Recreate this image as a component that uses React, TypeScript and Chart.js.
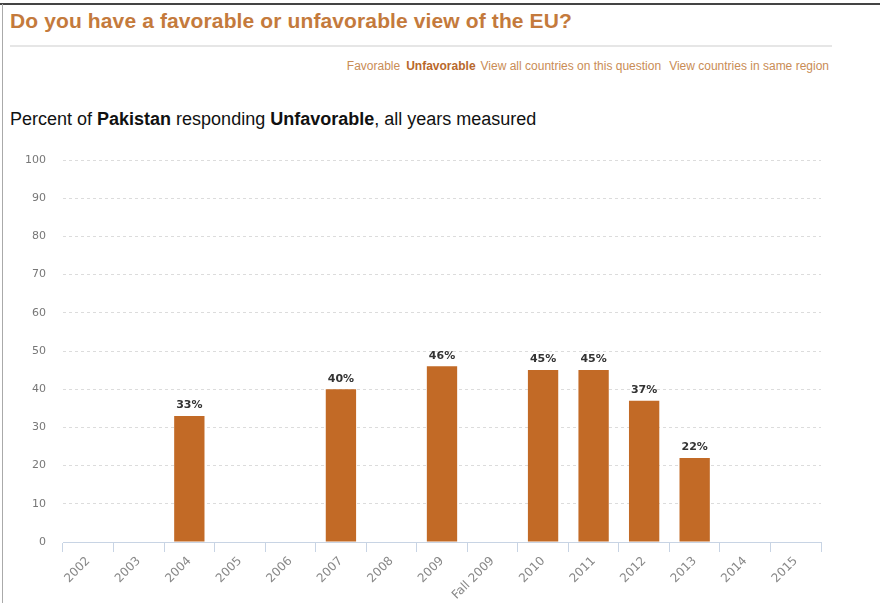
import React, { useEffect, useRef } from "react";
import { Chart, registerables } from "chart.js";

Chart.register(...registerables);

const categories = ["2002", "2003", "2004", "2005", "2006", "2007", "2008", "2009", "Fall 2009", "2010", "2011", "2012", "2013", "2014", "2015"];
const unfavorable: (number | null)[] = [null, null, 33, null, null, 40, null, 46, null, 45, 45, 37, 22, null, null];
const yTicks = [0, 10, 20, 30, 40, 50, 60, 70, 80, 90, 100];

const BAR = "#c26a26";

const labelPlugin = {
  id: "barLabels",
  afterDatasetsDraw(chart: any) {
    const ctx = chart.ctx;
    const meta = chart.getDatasetMeta(0);
    ctx.save();
    ctx.font = "bold 11px 'DejaVu Sans', sans-serif";
    ctx.fillStyle = "#333";
    ctx.textAlign = "center";
    ctx.textBaseline = "bottom";
    meta.data.forEach((el: any, i: number) => {
      const v = unfavorable[i];
      if (v == null) return;
      ctx.fillText(v + "%", el.x, el.y - 5);
    });
    ctx.restore();
  },
};

export default function App() {
  const ref = useRef<HTMLCanvasElement>(null);
  useEffect(() => {
    if (!ref.current) return;
    const chart = new Chart(ref.current, {
      type: "bar",
      data: {
        labels: categories,
        datasets: [
          {
            data: unfavorable,
            backgroundColor: BAR,
            barPercentage: 0.6,
            categoryPercentage: 1,
          },
        ],
      },
      options: {
        animation: false,
        responsive: false,
        maintainAspectRatio: false,
        layout: { padding: { left: 0, right: 59, top: 30, bottom: 0 } },
        plugins: { legend: { display: false }, tooltip: { enabled: false } },
        scales: {
          x: {
            grid: {
              display: true,
              offset: true,
              drawOnChartArea: false,
              drawTicks: true,
              tickLength: 10,
              color: "#c8d4e4",
            },
            border: { display: true, color: "#c8d4e4", width: 1 },
            ticks: {
              autoSkip: false,
              maxRotation: 45,
              minRotation: 45,
              color: "#888",
              font: { family: "'DejaVu Sans', sans-serif", size: 12 },
              padding: 2,
            },
            afterFit: (s: any) => {
              s.height = 61;
            },
          },
          y: {
            min: 0,
            max: 100,
            afterBuildTicks: (s: any) => {
              s.ticks = yTicks.map((v) => ({ value: v }));
            },
            grid: {
              color: "#dcdcdc",
              drawTicks: false,
            },
            border: { display: false, dash: [3, 3] },
            ticks: {
              color: "#777",
              padding: 17,
              font: { family: "'DejaVu Sans', sans-serif", size: 11 },
            },
            afterFit: (s: any) => {
              s.width = 63;
            },
          },
        },
      },
      plugins: [labelPlugin],
    });
    return () => chart.destroy();
  }, []);

  return (
    <div
      style={{
        position: "fixed",
        left: 0,
        top: 0,
        width: 880,
        height: 603,
        background: "#fff",
        overflow: "hidden",
        fontFamily: "'Liberation Sans', Arial, sans-serif",
      }}
    >
      <div style={{ position: "absolute", left: 0, top: 3, width: 880, height: 2, background: "#444" }} />
      <div style={{ position: "absolute", left: 2, top: 4, width: 1, height: 599, background: "#aaa" }} />
      <div
        style={{
          position: "absolute",
          left: 10,
          top: 8,
          fontWeight: "bold",
          fontSize: 21,
          letterSpacing: 0.12,
          color: "#c47a3c",
          whiteSpace: "nowrap",
          lineHeight: "25px",
        }}
      >
        Do you have a favorable or unfavorable view of the EU?
      </div>
      <div style={{ position: "absolute", left: 10, top: 45, width: 822, height: 2, background: "#e6e6e6" }} />
      <div
        style={{
          position: "absolute",
          right: 51,
          top: 59,
          fontSize: 12,
          color: "#c98c55",
          whiteSpace: "nowrap",
          lineHeight: "14px",
        }}
      >
        <span>Favorable</span>
        <span style={{ marginLeft: 6, fontWeight: "bold", color: "#b8682c" }}>Unfavorable</span>
        <span style={{ marginLeft: 5 }}>View all countries on this question</span>
        <span style={{ marginLeft: 8 }}>View countries in same region</span>
      </div>
      <div
        style={{
          position: "absolute",
          left: 10,
          top: 108,
          fontSize: 18,
          color: "#111",
          whiteSpace: "nowrap",
          lineHeight: "22px",
        }}
      >
        Percent of <b>Pakistan</b> responding <b>Unfavorable</b>, all years measured
      </div>
      <canvas
        ref={ref}
        width={880}
        height={473}
        style={{ position: "absolute", left: 0, top: 130, width: 880, height: 473 }}
      />
    </div>
  );
}
